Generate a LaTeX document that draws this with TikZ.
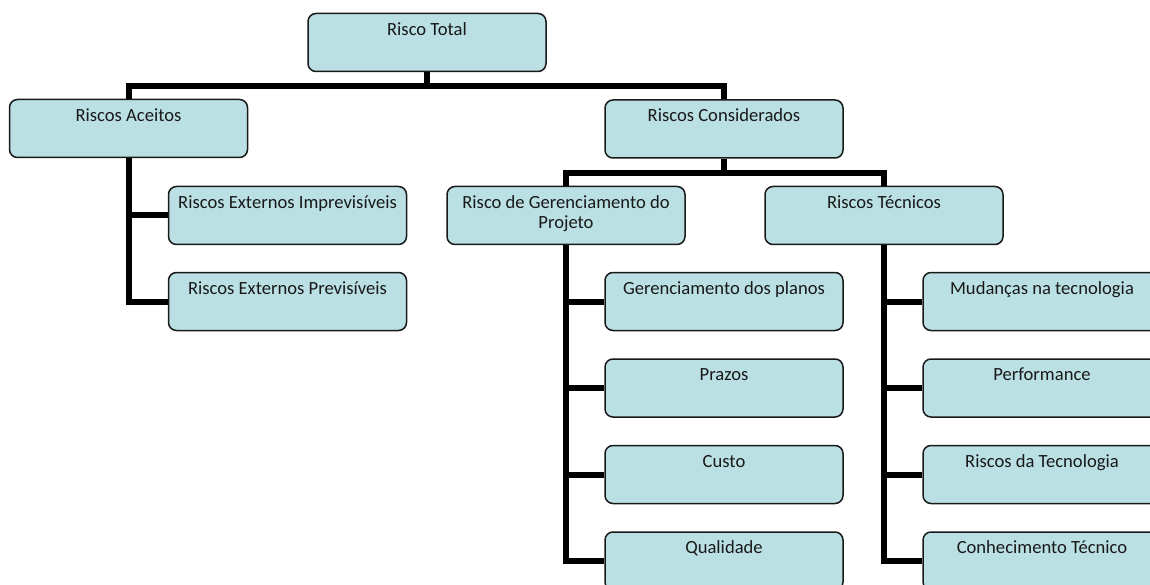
\documentclass[tikz,border=0pt]{standalone}
\usepackage{fontspec}
\setmainfont{Carlito}
\definecolor{boxfill}{RGB}{186,224,227}
\definecolor{boxline}{RGB}{25,25,25}
\tikzset{
  riskbox/.style={draw=boxline, fill=boxfill, line width=1.5pt, rounded corners=8pt,
    minimum width=238pt, minimum height=58pt, inner sep=0pt},
  boxtext/.style={anchor=base, yshift=-22.5pt, inner sep=0pt, align=center,
    font=\fontsize{18.6}{20}\selectfont, text=black!90},
  conn/.style={line width=6pt, draw=black}
}
% #1 extra label options, #2 name, #3 position, #4 text
\newcommand{\riskitem}[4][]{\node[riskbox, label={[boxtext,#1]north:#4}] (#2) at #3 {};}
\begin{document}
\begin{tikzpicture}[x=1pt, y=-1pt]
  \useasboundingbox (0,0) rectangle (1150,585);
  \clip (0,0) rectangle (1150,585);

  % top level and its two branches
  \riskitem{total}{(427,42.5)}{Risco Total}
  \riskitem{aceitos}{(128.5,128.5)}{Riscos Aceitos}
  \riskitem{consid}{(724,129)}{Riscos Considerados}

  % accepted risks
  \riskitem{extimp}{(287.5,215.5)}{Riscos Externos Imprevisíveis}
  \riskitem{extprev}{(287.5,301.5)}{Riscos Externos Previsíveis}

  % considered risks (two-line label: base sits on the last line)
  \riskitem[yshift=-20pt]{gerproj}{(566,215.5)}{Risco de Gerenciamento do\\Projeto}
  \riskitem{tecnicos}{(884,215.5)}{Riscos Técnicos}

  % project management risks
  \riskitem{planos}{(724,301.5)}{Gerenciamento dos planos}
  \riskitem{prazos}{(724,388)}{Prazos}
  \riskitem{custo}{(724,474.5)}{Custo}
  \riskitem{qualidade}{(724,561)}{Qualidade}

  % technical risks
  \riskitem{mudancas}{(1042,301.5)}{Mudanças na tecnologia}
  \riskitem{perf}{(1042,388)}{Performance}
  \riskitem{risctec}{(1042,474.5)}{Riscos da Tecnologia}
  \riskitem{conhec}{(1042,561)}{Conhecimento Técnico}

  % connectors
  \draw[conn] (total.south) -- ++(0,14) -| (aceitos.north);
  \draw[conn] (total.south) -- ++(0,14) -| (consid.north);
  \draw[conn] (aceitos.south) |- (extimp.west);
  \draw[conn] (aceitos.south) |- (extprev.west);
  \draw[conn] (consid.south) -- ++(0,14) -| (gerproj.north);
  \draw[conn] (consid.south) -- ++(0,14) -| (tecnicos.north);
  \foreach \c in {planos,prazos,custo,qualidade}
    \draw[conn] (gerproj.south) |- (\c.west);
  \foreach \c in {mudancas,perf,risctec,conhec}
    \draw[conn] (tecnicos.south) |- (\c.west);
\end{tikzpicture}
\end{document}
